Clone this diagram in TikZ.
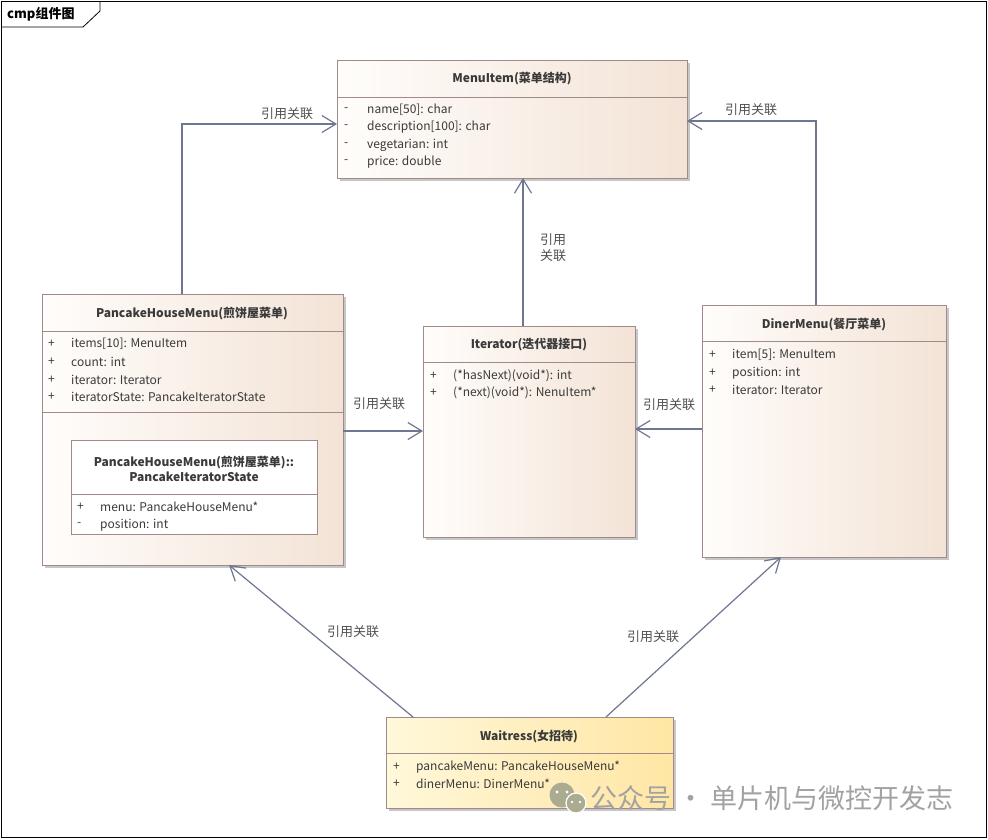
\documentclass[tikz,border=0pt]{standalone}
\usepackage{fontspec}
\setmainfont{Noto Sans CJK SC}
\usetikzlibrary{arrows.meta,shadows}

\definecolor{boxline}{HTML}{A08A8A}
\definecolor{boxleft}{HTML}{FFFDFB}
\definecolor{boxright}{HTML}{F3E3D6}
\definecolor{waitleft}{HTML}{FFF8DA}
\definecolor{waitright}{HTML}{FFE6A4}
\definecolor{assocline}{HTML}{6E7691}
\definecolor{txt}{HTML}{3A3A3A}
\definecolor{lbltxt}{HTML}{505050}
\definecolor{marktxt}{HTML}{A2A2A2}

\tikzset{
  classbox/.style={draw=boxline, line width=1pt, anchor=north west, inner sep=0pt, outer sep=0pt,
    left color=boxleft, right color=boxright,
    drop shadow={shadow xshift=3pt, shadow yshift=-3pt, fill=black!22, opacity=1}},
  waitbox/.style={classbox, left color=waitleft, right color=waitright},
  innerbox/.style={draw=boxline, line width=1pt, anchor=north west, inner sep=0pt, outer sep=0pt, fill=white},
  divider/.style={draw=boxline, line width=1pt},
  clstitle/.style={font=\bfseries\fontsize{12}{15}\selectfont, text=txt, inner sep=0pt, align=center},
  attr/.style={anchor=west, font=\fontsize{12}{14}\selectfont, text=txt, inner sep=0pt},
  assoc/.style={draw=assocline, line width=1.2pt, -{Straight Barb[length=14pt,width=17pt,line width=1.2pt]}},
  assoclbl/.style={font=\fontsize{13}{16}\selectfont, text=lbltxt, inner sep=0pt, align=left}
}

\begin{document}
\begin{tikzpicture}[x=1pt,y=-1pt]
\useasboundingbox (0,0) rectangle (988,839);
\fill[white] (0,0) rectangle (988,839);

% frame
\draw[black, line width=0.8pt] (1,1) rectangle (986,837);
\draw[black, line width=0.8pt] (1,27) -- (83,27) -- (100,11) -- (100,1);
\node[anchor=west, font=\bfseries\fontsize{13}{15}\selectfont, inner sep=0pt] (frame-title) at (7,14) {cmp组件图};

% MenuItem
\node[classbox, minimum width=350pt, minimum height=118pt] (menuitem) at (337,60) {};
\draw[divider] (337,97) -- (687,97);
\node[clstitle] (mi-title) at (512,79) {MenuItem(菜单结构)};
\node[attr] (mi-v1) at (344,110) {-};
\node[attr] (mi-a1) at (367,110) {name[50]: char};
\node[attr] (mi-v2) at (344,127) {-};
\node[attr] (mi-a2) at (367,127) {description[100]: char};
\node[attr] (mi-v3) at (344,145) {-};
\node[attr] (mi-a3) at (367,145) {vegetarian: int};
\node[attr] (mi-v4) at (344,162) {-};
\node[attr] (mi-a4) at (367,162) {price: double};

% PancakeHouseMenu
\node[classbox, minimum width=301pt, minimum height=271pt] (pancake) at (42,294) {};
\draw[divider] (42,331) -- (343,331);
\draw[divider] (42,412) -- (343,412);
\node[clstitle] (ph-title) at (192,314) {PancakeHouseMenu(煎饼屋菜单)};
\node[attr] (ph-v1) at (48,344) {+};
\node[attr] (ph-a1) at (71,344) {items[10]: MenuItem};
\node[attr] (ph-v2) at (48,362) {+};
\node[attr] (ph-a2) at (71,362) {count: int};
\node[attr] (ph-v3) at (48,380) {+};
\node[attr] (ph-a3) at (71,380) {iterator: Iterator};
\node[attr] (ph-v4) at (48,397) {+};
\node[attr] (ph-a4) at (71,397) {iteratorState: PancakeIteratorState};

% PancakeIteratorState (nested)
\node[innerbox, minimum width=246pt, minimum height=94pt] (pstate) at (71,440) {};
\draw[divider] (71,494) -- (317,494);
\node[clstitle] (ps-title) at (194,469) {PancakeHouseMenu(煎饼屋菜单)::\\PancakeIteratorState};
\node[attr] (ps-v1) at (77,507) {+};
\node[attr] (ps-a1) at (100,507) {menu: PancakeHouseMenu*};
\node[attr] (ps-v2) at (77,525) {-};
\node[attr] (ps-a2) at (100,525) {position: int};

% Iterator
\node[classbox, minimum width=212pt, minimum height=211pt] (iterator) at (423,326) {};
\draw[divider] (423,362) -- (635,362);
\node[clstitle] (it-title) at (529,345) {Iterator(迭代器接口)};
\node[attr] (it-v1) at (430,376) {+};
\node[attr] (it-a1) at (453,376) {(*hasNext)(void*): int};
\node[attr] (it-v2) at (430,393) {+};
\node[attr] (it-a2) at (453,393) {(*next)(void*): NenuItem*};

% DinerMenu
\node[classbox, minimum width=244pt, minimum height=252pt] (diner) at (702,305) {};
\draw[divider] (702,341) -- (946,341);
\node[clstitle] (dm-title) at (824,325) {DinerMenu(餐厅菜单)};
\node[attr] (dm-v1) at (709,355) {+};
\node[attr] (dm-a1) at (732,355) {item[5]: MenuItem};
\node[attr] (dm-v2) at (709,373) {+};
\node[attr] (dm-a2) at (732,373) {position: int};
\node[attr] (dm-v3) at (709,390) {+};
\node[attr] (dm-a3) at (732,390) {iterator: Iterator};

% Waitress
\node[waitbox, minimum width=287pt, minimum height=91pt] (waitress) at (386,717) {};
\draw[divider] (386,753) -- (673,753);
\node[clstitle] (wt-title) at (529,737) {Waitress(女招待)};
\node[attr] (wt-v1) at (393,767) {+};
\node[attr] (wt-a1) at (416,767) {pancakeMenu: PancakeHouseMenu*};
\node[attr] (wt-v2) at (393,784) {+};
\node[attr] (wt-a2) at (416,784) {dinerMenu: DinerMenu*};

% associations
\draw[assoc] ([xshift=-10.5pt]pancake.north) |- ([yshift=-5pt]menuitem.west);
\draw[assoc] ([xshift=-8pt]diner.north) |- ([yshift=-2pt]menuitem.east);
\draw[assoc] ([xshift=-6pt]iterator.north) -- ([xshift=-6pt]iterator.north |- menuitem.south);
\draw[assoc] ([yshift=-1.5pt]pancake.east) -- ([yshift=-1.5pt]pancake.east -| iterator.west);
\draw[assoc] ([yshift=2pt]diner.west) -- ([yshift=2pt]diner.west -| iterator.east);
\draw[assoc] ([xshift=-116.5pt]waitress.north) -- ([xshift=36.5pt]pancake.south);
\draw[assoc] ([xshift=76.5pt]waitress.north) -- ([xshift=-43pt]diner.south);

\node[assoclbl] (lbl-ph) at (287,114) {引用关联};
\node[assoclbl] (lbl-dm) at (751,110) {引用关联};
\node[assoclbl] (lbl-it) at (553,248) {引用\\关联};
\node[assoclbl] (lbl-phit) at (379,404) {引用关联};
\node[assoclbl] (lbl-dmit) at (669,405) {引用关联};
\node[assoclbl] (lbl-wph) at (353,632) {引用关联};
\node[assoclbl] (lbl-wdm) at (653,637) {引用关联};

% watermark
\fill[marktxt!90!yellow] (562,795) circle (12.5);
\fill[marktxt!90!yellow, draw=white, line width=1.2pt] (576,803) circle (10);
\fill[white] (557,792) circle (1.6) (567,792) circle (1.6) (572,802) circle (1.3) (580,802) circle (1.3);
\node[anchor=west, font=\fontsize{27}{30}\selectfont, text=marktxt, inner sep=0pt] (watermark) at (590,798) {公众号 · 单片机与微控开发志};
\end{tikzpicture}
\end{document}
